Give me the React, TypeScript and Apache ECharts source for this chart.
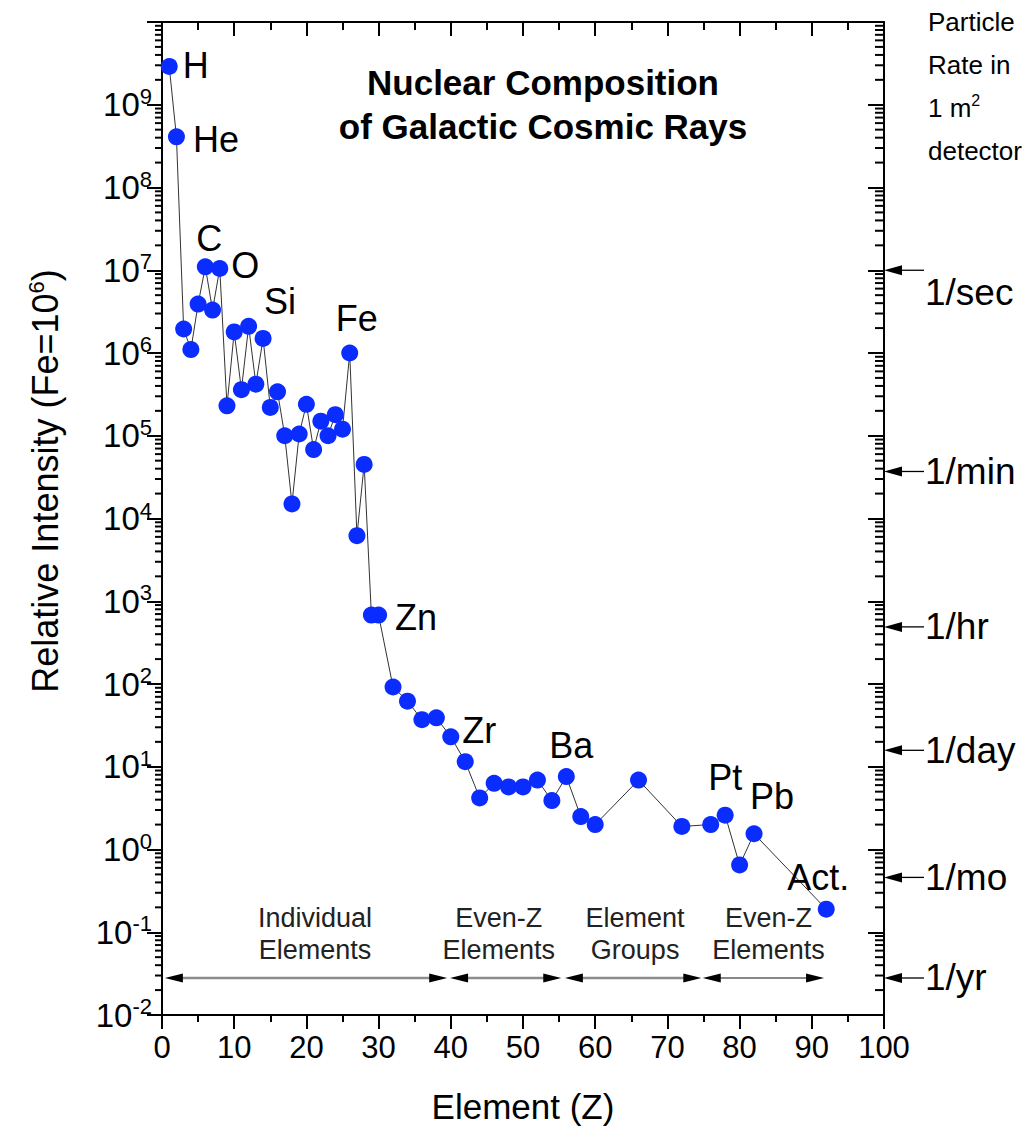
import React, { useEffect, useRef } from "react";
import * as echarts from "echarts";

const FONT = "'Liberation Sans', Arial, Helvetica, sans-serif";

// Atomic number of each plotted element (or element group above Z = 60)
const zValues = [
  1, 2, 3, 4, 5, 6, 7, 8, 9, 10, 11, 12, 13, 14, 15, 16, 17, 18, 19, 20,
  21, 22, 23, 24, 25, 26, 27, 28, 29, 30, 32, 34, 36, 38, 40, 42, 44, 46,
  48, 50, 52, 54, 56, 58, 60, 66, 72, 76, 78, 80, 82, 92,
];

// Relative intensity, normalised so that Fe = 10^6
const intensities = [
  2.9e9, 4.1e8, 1.95e6, 1.1e6, 3.9e6, 1.1e7, 3.3e6, 1.05e7, 2.3e5, 1.8e6,
  3.6e5, 2.1e6, 4.2e5, 1.5e6, 2.2e5, 3.4e5, 1.0e5, 1.5e4, 1.05e5, 2.4e5,
  6.8e4, 1.5e5, 1.0e5, 1.8e5, 1.2e5, 1.0e6, 6.2e3, 4.5e4, 680, 680,
  92, 62, 37, 39, 23, 11.5, 4.2, 6.3, 5.7, 5.7, 6.9, 3.9, 7.6, 2.5, 2.0,
  6.9, 1.9, 2.0, 2.6, 0.65, 1.55, 0.19,
];

// Symbols written beside selected points
const elementSymbols: Record<number, string> = {
  1: "H", 2: "He", 6: "C", 8: "O", 14: "Si", 26: "Fe", 30: "Zn",
  40: "Zr", 56: "Ba", 78: "Pt", 82: "Pb", 92: "Act.",
};

// Particle rate in a 1 m^2 detector, marked against the right-hand axis
const rateLabels = ["1/sec", "1/min", "1/hr", "1/day", "1/mo", "1/yr"];
const rateLevels = [1e7, 3.7e4, 490, 15.8, 0.46, 0.028];

// Z ranges of the different groupings along the bottom
const groupLabels = ["Individual\nElements", "Even-Z\nElements", "Element\nGroups", "Even-Z\nElements"];
const groupStarts = [0.4, 39.9, 55.8, 74.9];
const groupEnds = [39.5, 55.3, 74.7, 91.7];
const groupLevel = 0.028;

// Axis ranges
const Z_MIN = 0;
const Z_MAX = 100;
const Z_STEP = 10;
const I_MIN = 1e-2;
const I_MAX = 1e10;

// Where each element symbol sits relative to its marker
const labelPlacement: Record<string, any> = {
  H: { position: "right", distance: 5, offset: [0, -1] },
  He: { position: "right", distance: 8, offset: [0, 3] },
  C: { position: "top", distance: 2, offset: [4, 0] },
  O: { position: "right", distance: 3, offset: [0, -3] },
  Si: { position: "top", distance: 10, offset: [17, 0] },
  Fe: { position: "top", distance: 8, offset: [7, 0] },
  Zn: { position: "right", distance: 8, offset: [0, 2] },
  Zr: { position: "right", distance: 3, offset: [0, -6] },
  Ba: { position: "top", distance: 5, offset: [5, 0] },
  Pt: { position: "top", distance: 11, offset: [0, 0] },
  Pb: { position: "top", distance: 11, offset: [18, 0] },
  "Act.": { position: "top", distance: 5, offset: [-8, 0] },
};

// Horizontal nudge of each grouping caption from its arrow's centre
const groupTextShift = [9, -7, 2, 5];

function buildOption() {
  const points = zValues.map((z, i) => {
    const sym = elementSymbols[z];
    const item: any = { value: [z, intensities[i]] };
    if (sym) {
      item.label = { show: true, formatter: sym, ...labelPlacement[sym] };
    }
    return item;
  });

  // logarithmic minor ticks (2..9 x 10^n) for both vertical axes
  const minorTicks: number[][] = [];
  const eMin = Math.round(Math.log10(I_MIN));
  const eMax = Math.round(Math.log10(I_MAX));
  for (let e = eMin; e < eMax; e++) {
    for (let k = 2; k <= 9; k++) minorTicks.push([Z_MIN, k * Math.pow(10, e)]);
  }

  const axisLine = { show: true, onZero: false, lineStyle: { color: "#000", width: 2 } };

  return {
    animation: false,
    backgroundColor: "#fff",
    grid: { left: 162, top: 22, width: 722, height: 993, containLabel: false },
    xAxis: [
      {
        type: "value",
        position: "bottom",
        min: Z_MIN,
        max: Z_MAX,
        interval: Z_STEP,
        axisLine,
        axisTick: { show: true, length: 14, lineStyle: { color: "#000", width: 2 } },
        minorTick: { show: true, splitNumber: 2, length: 7, lineStyle: { color: "#000", width: 2 } },
        splitLine: { show: false },
        axisLabel: { fontFamily: FONT, fontSize: 31, color: "#000", margin: 17 },
        name: "Element (Z)",
        nameLocation: "middle",
        nameGap: 74,
        nameTextStyle: { fontFamily: FONT, fontSize: 35, color: "#000" },
      },
      {
        type: "value",
        position: "top",
        min: Z_MIN,
        max: Z_MAX,
        interval: Z_STEP,
        axisLine,
        axisTick: { show: true, inside: true, length: 14, lineStyle: { color: "#000", width: 2 } },
        minorTick: { show: true, splitNumber: 2, length: 8, lineStyle: { color: "#000", width: 2 } },
        splitLine: { show: false },
        axisLabel: { show: false },
      },
    ],
    yAxis: [
      {
        type: "log",
        logBase: 10,
        position: "left",
        min: I_MIN,
        max: I_MAX,
        interval: 1,
        axisLine,
        axisTick: { show: true, length: 15, lineStyle: { color: "#000", width: 2 } },
        splitLine: { show: false },
        axisLabel: {
          margin: 10,
          formatter: (v: number) => {
            const e = Math.round(Math.log10(v));
            if (e >= eMax) return "";
            return `{b|10}{s|${e}}`;
          },
          rich: {
            b: { fontFamily: FONT, fontSize: 33, color: "#000", lineHeight: 33 },
            s: { fontFamily: FONT, fontSize: 22, color: "#000", lineHeight: 22, padding: [0, 0, 17, 0] },
          },
        },
      },
      {
        type: "log",
        logBase: 10,
        position: "right",
        min: I_MIN,
        max: I_MAX,
        interval: 1,
        axisLine,
        axisTick: { show: true, inside: true, length: 16, lineStyle: { color: "#000", width: 2 } },
        splitLine: { show: false },
        axisLabel: { show: false },
      },
    ],
    graphic: [
      {
        // vertical axis title
        type: "text",
        x: 45,
        y: 481,
        rotation: Math.PI / 2,
        style: {
          text: "{t|Relative Intensity (Fe=10}{u|6}{t|)}",
          rich: {
            t: { fontFamily: FONT, fontSize: 36, fill: "#000", lineHeight: 36 },
            u: { fontFamily: FONT, fontSize: 22, fill: "#000", lineHeight: 22, padding: [0, 0, 18, 0] },
          },
          textAlign: "center",
          textVerticalAlign: "middle",
          align: "center",
          verticalAlign: "middle",
        },
      },
      {
        type: "text",
        x: 543,
        y: 60,
        style: {
          text: "Nuclear Composition\nof Galactic Cosmic Rays",
          font: `bold 35px ${FONT}`,
          lineHeight: 44,
          fill: "#000",
          textAlign: "center",
          textVerticalAlign: "top",
          align: "center",
          verticalAlign: "top",
        },
      },
      {
        type: "text",
        x: 928,
        y: 0,
        style: {
          text: "{a|Particle}\n{a|Rate in}\n{a|1 m}{s|2}\n{a|detector}",
          rich: {
            a: { fontFamily: FONT, fontSize: 26, fill: "#000", lineHeight: 43 },
            s: { fontFamily: FONT, fontSize: 16, fill: "#000", lineHeight: 16, padding: [0, 0, 15, 0] },
          },
          textAlign: "left",
          textVerticalAlign: "top",
          align: "left",
          verticalAlign: "top",
        },
      },
    ],
    series: [
      {
        name: "minor ticks",
        type: "custom",
        coordinateSystem: "cartesian2d",
        silent: true,
        clip: false,
        data: minorTicks,
        encode: { x: 0, y: 1 },
        renderItem: (_params: any, api: any) => {
          const v = api.value(1);
          const l = api.coord([Z_MIN, v]);
          const r = api.coord([Z_MAX, v]);
          return {
            type: "group",
            children: [
              { type: "line", shape: { x1: l[0] - 7, y1: l[1], x2: l[0], y2: l[1] }, style: { stroke: "#000", lineWidth: 2 } },
              { type: "line", shape: { x1: r[0] - 9, y1: r[1], x2: r[0], y2: r[1] }, style: { stroke: "#000", lineWidth: 2 } },
            ],
          };
        },
        z: 1,
      },
      {
        name: "rates",
        type: "custom",
        coordinateSystem: "cartesian2d",
        silent: true,
        clip: false,
        data: rateLevels.map((v, i) => [Z_MAX, v, i]),
        encode: { x: 0, y: 1 },
        renderItem: (_params: any, api: any) => {
          const p = api.coord([api.value(0), api.value(1)]);
          const i = api.value(2);
          const x = p[0];
          const y = p[1];
          return {
            type: "group",
            children: [
              { type: "polygon", shape: { points: [[x, y], [x + 18, y - 5], [x + 18, y + 5]] }, style: { fill: "#000" } },
              { type: "line", shape: { x1: x + 16, y1: y, x2: x + 40, y2: y }, style: { stroke: "#000", lineWidth: 1.3 } },
              {
                type: "text",
                x: x + 41,
                y: y + (i === 0 ? 22 : 0),
                style: {
                  text: rateLabels[i],
                  font: `37px ${FONT}`,
                  fill: "#000",
                  textAlign: "left",
                  textVerticalAlign: "middle",
                  align: "left",
                  verticalAlign: "middle",
                },
              },
            ],
          };
        },
        z: 4,
      },
      {
        name: "groups",
        type: "custom",
        coordinateSystem: "cartesian2d",
        silent: true,
        clip: false,
        data: groupStarts.map((s, i) => [s, groupEnds[i], groupLevel, i]),
        encode: { x: [0, 1], y: 2 },
        renderItem: (_params: any, api: any) => {
          const i = api.value(3);
          const a = api.coord([api.value(0), api.value(2)]);
          const b = api.coord([api.value(1), api.value(2)]);
          const y = a[1];
          const thin = i === 3;
          return {
            type: "group",
            children: [
              {
                type: "line",
                shape: { x1: a[0] + 10, y1: y, x2: b[0] - 10, y2: y },
                style: { stroke: thin ? "#111" : "#8c8c8c", lineWidth: thin ? 1.2 : 2.5 },
              },
              { type: "polygon", shape: { points: [[a[0], y], [a[0] + 18, y - 4.5], [a[0] + 18, y + 4.5]] }, style: { fill: "#000" } },
              { type: "polygon", shape: { points: [[b[0], y], [b[0] - 18, y - 4.5], [b[0] - 18, y + 4.5]] }, style: { fill: "#000" } },
              {
                type: "text",
                x: (a[0] + b[0]) / 2 + groupTextShift[i],
                y: y - 44,
                style: {
                  text: groupLabels[i],
                  font: `27px ${FONT}`,
                  lineHeight: 32,
                  fill: "#222",
                  textAlign: "center",
                  textVerticalAlign: "middle",
                  align: "center",
                  verticalAlign: "middle",
                },
              },
            ],
          };
        },
        z: 2,
      },
      {
        name: "Relative Intensity",
        type: "line",
        data: points,
        symbol: "circle",
        symbolSize: 17,
        itemStyle: { color: "#0a2cff" },
        lineStyle: { color: "#333", width: 1 },
        label: { color: "#000", fontFamily: FONT, fontSize: 36, lineHeight: 36 },
        z: 3,
      },
    ],
  };
}

export default function App() {
  const ref = useRef<HTMLDivElement>(null);
  useEffect(() => {
    if (!ref.current) return;
    const chart = echarts.init(ref.current, null, { renderer: "svg" });
    chart.setOption(buildOption() as any);
    return () => chart.dispose();
  }, []);
  return (
    <div
      ref={ref}
      style={{ position: "fixed", left: 0, top: 0, width: 1036, height: 1142, background: "#fff" }}
    />
  );
}
